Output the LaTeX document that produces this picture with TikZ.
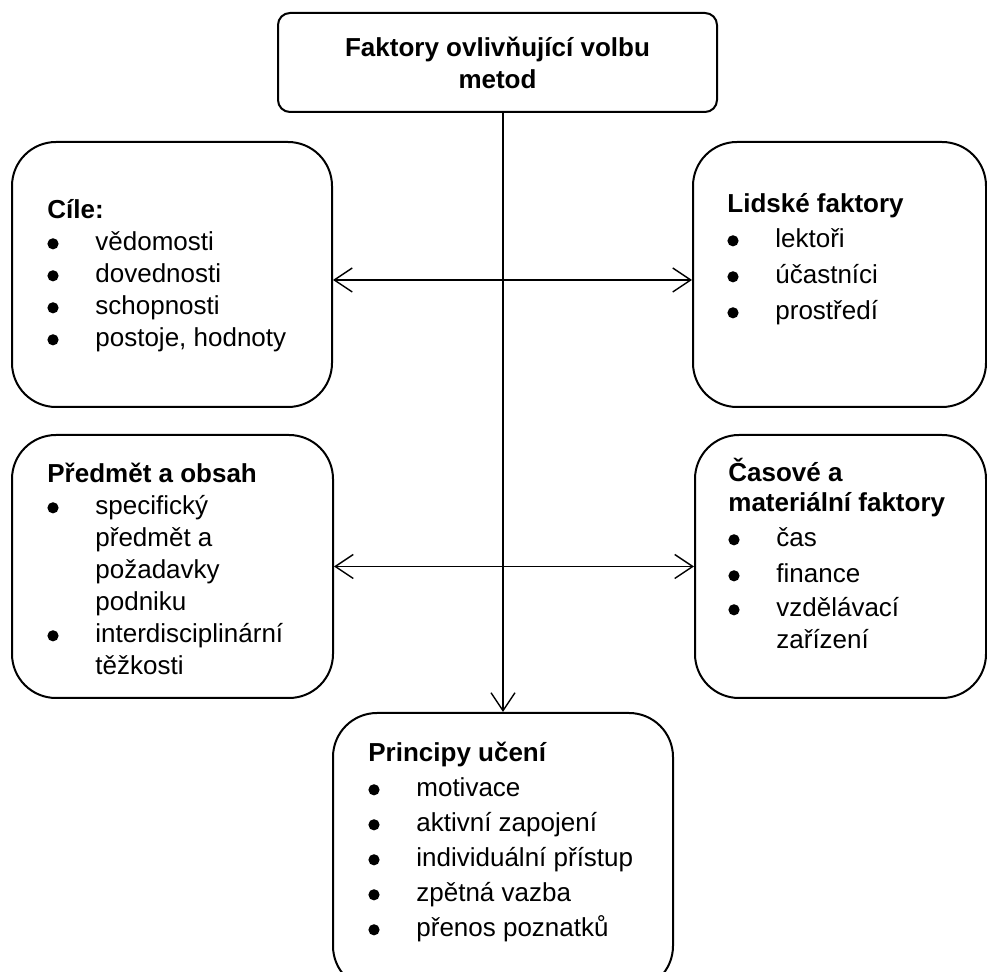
\documentclass[tikz,border=0pt]{standalone}
\usepackage{fontspec}
\setmainfont{Liberation Sans}
\usetikzlibrary{arrows.meta}

\newcommand{\itm}{\makebox[24pt][l]{\raisebox{0.8pt}{\tikz[x=1pt,y=1pt]\fill (0,0) circle (2.8);}}}
\newcommand{\cnt}{\hspace*{24pt}}
\newcommand{\listbox}[1]{\parbox[t]{160pt}{\raggedright #1}}

\begin{document}
\begin{tikzpicture}[x=0.5pt,y=-0.5pt]
\useasboundingbox (0,0) rectangle (987,972);
\clip (0,0) rectangle (987,972);

\begin{scope}[every node/.style={draw,line width=1pt,rounded corners=22pt,
              font=\fontsize{13}{16}\selectfont}]
    \node[minimum width=219.5pt,minimum height=49.5pt,rounded corners=6pt,
          align=center,font=\fontsize{13}{16}\selectfont\bfseries] (goal)
          at (497.5,62.5) {Faktory ovlivňující volbu\\metod};
    \node[minimum width=160pt,minimum height=132.5pt] (cile) at (172,274.5) {};
    \node[minimum width=146.5pt,minimum height=132.5pt] (lidske) at (839.5,274.5) {};
    \node[minimum width=160.5pt,minimum height=131.5pt] (predmet) at (172.5,566.5) {};
    \node[minimum width=145.5pt,minimum height=131.5pt] (casove) at (840.5,566.5) {};
    \node[minimum width=170pt,minimum height=138.5pt] (principy) at (503,851.5) {};
\end{scope}

\begin{scope}[every node/.style={anchor=base west,inner sep=0pt,
              font=\fontsize{13}{16}\selectfont}]
    \node (ciletext) at (47,219) {\listbox{\textbf{Cíle:}\\
        \itm vědomosti\\ \itm dovednosti\\ \itm schopnosti\\ \itm postoje, hodnoty}};
    \node (lidsketext) at (727,213) {\listbox{\textbf{Lidské faktory}\\[1.5pt]
        \itm lektoři\\[2pt] \itm účastníci\\[2pt] \itm prostředí}};
    \node (predmettext) at (47,483) {\listbox{\textbf{Předmět a obsah}\\
        \itm specifický\\ \cnt předmět a\\ \cnt požadavky\\ \cnt podniku\\
        \itm interdisciplinární\\ \cnt těžkosti}};
    \node (casovetext) at (728,482) {\listbox{\textbf{Časové a}\\[-1pt]
        \textbf{materiální faktory}\\[1.5pt]
        \itm čas\\[2pt] \itm finance\\[1pt] \itm vzdělávací\\ \cnt zařízení}};
    \node (principytext) at (368,762) {\listbox{\textbf{Principy učení}\\[1.5pt]
        \itm motivace\\[1.5pt] \itm aktivní zapojení\\[1.5pt] \itm individuální přístup\\[1.5pt]
        \itm zpětná vazba\\[1.5pt] \itm přenos poznatků}};
\end{scope}

\begin{scope}[>={Straight Barb[length=9pt,width=12pt]},
              every edge/.style={draw=black,line width=0.7pt}]
    \path [<->] ([yshift=-2.75pt]cile.east) edge ([yshift=-2.75pt]lidske.west);
    \path [<->] (predmet.east) edge (casove.west);
    \path [->] (goal.south -| principy.north) edge (principy.north);
\end{scope}
\end{tikzpicture}
\end{document}
